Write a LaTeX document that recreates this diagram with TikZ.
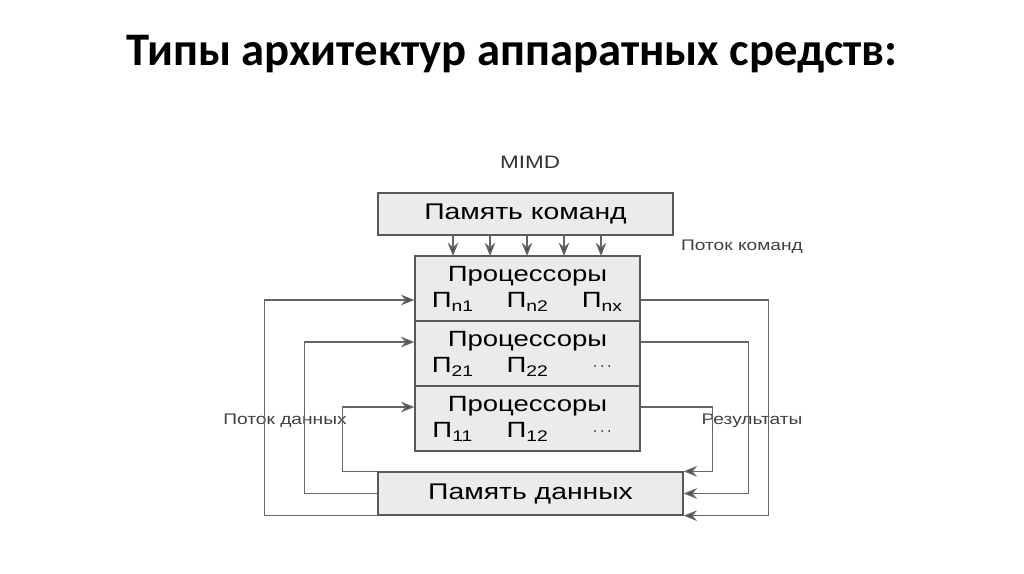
\documentclass[tikz,border=0pt]{standalone}
\usepackage{fontspec}
\setmainfont{Liberation Sans}
\newfontfamily\wide[FakeStretch=1.25]{Liberation Sans}
\newfontfamily\titlefont{Carlito}
\usetikzlibrary{arrows.meta}
\newcommand{\pcell}[1]{\makebox[3.4em][c]{#1}}
\begin{document}
\begin{tikzpicture}[x=0.75pt,y=-0.75pt,
  box/.style={draw=black!65,line width=1pt,fill=black!8,inner sep=0pt,anchor=center},
  conn/.style={draw=black!60,line width=1pt},
  arr/.style={conn,-{Stealth[length=10pt,width=8pt,fill=black!70]}},
  lbl/.style={font=\wide\fontsize{11.5}{12}\selectfont,text=black!75},
  pbox/.style={box,minimum width=168.75pt,minimum height=48.75pt,font=\wide\fontsize{16.5}{20}\selectfont,align=center}]
\useasboundingbox (0,0) rectangle (1024,574);
\node[font=\titlefont\bfseries\fontsize{35}{40}\selectfont] (title) at (512,54) {Типы архитектур аппаратных средств:};
\node[font=\wide\fontsize{13.5}{14}\selectfont,text=black!80] (mimd) at (530,162) {MIMD};
\node[box,minimum width=221.25pt,minimum height=31.5pt,font=\wide\fontsize{17}{18}\selectfont] (cm) at (525.5,214) {Память команд};
\node[pbox] (p3) at (527.5,288.5)
  {Процессоры\\\pcell{П\textsubscript{n1}}\pcell{П\textsubscript{n2}}\pcell{П\textsubscript{nx}}};
\node[pbox] (p2) at (527.5,353.5)
  {Процессоры\\\pcell{П\textsubscript{21}}\pcell{П\textsubscript{22}}\pcell{\raisebox{2pt}{\fontsize{12}{12}\selectfont$\cdots$}}};
\node[pbox] (p1) at (527.5,418.5)
  {Процессоры\\\pcell{П\textsubscript{11}}\pcell{П\textsubscript{12}}\pcell{\raisebox{2pt}{\fontsize{12}{12}\selectfont$\cdots$}}};
\node[box,minimum width=228.75pt,minimum height=32.25pt,font=\wide\fontsize{17}{18}\selectfont] (dm) at (530.5,493.5) {Память данных};
\node[lbl] (lcmd) at (742,247) {Поток команд};
\node[lbl] (ldat) at (285,421) {Поток данных};
\node[lbl] (lres) at (752,421) {Результаты};
\foreach \x in {453,490,527,564,601}
  \draw[arr] (\x,235) coordinate (a\x) -- (\x,256) coordinate (b\x);
% left loops
\draw[arr] (dm.south west) -- ++(-113,0) |- ([yshift=-8.6pt]p3.west);
\draw[arr] (dm.west) -- ++(-73,0) |- ([yshift=8.6pt]p2.west);
\draw[arr] (dm.north west) -- ++(-35,0) |- ([yshift=8.6pt]p1.west);
% right loops
\draw[arr] ([yshift=-8.6pt]p3.east) -- ++(128,0) |- (dm.south east);
\draw[arr] ([yshift=8.6pt]p2.east) -- ++(108,0) |- (dm.east);
\draw[arr] ([yshift=8.6pt]p1.east) -- ++(72,0) |- (dm.north east);
\end{tikzpicture}
\end{document}
